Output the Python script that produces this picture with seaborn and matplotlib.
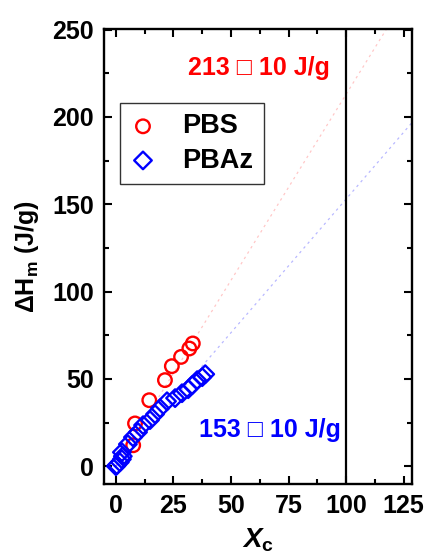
import numpy as np
import pandas as pd
import matplotlib
matplotlib.use("Agg")
import matplotlib.pyplot as plt
from matplotlib.ticker import MultipleLocator
import seaborn as sns

# Crystallinity X_c (%) and melting enthalpy (J/g)
pbs_xc = [7.5, 8.3, 14.5, 21.3, 24.3, 28.3, 31.9, 33.4]
pbs_dh = [12.0, 24.5, 37.8, 49.3, 57.3, 62.6, 67.4, 70.3]

pbaz_xc = [0.0, 0.4, 1.7, 2.6, 3.0, 2.6, 5.2, 7.4, 9.6, 11.8, 14.8,
           17.0, 19.2, 22.2, 25.7, 28.7, 31.4, 33.1, 35.3, 37.5, 38.8]
pbaz_dh = [0.0, 0.6, 2.3, 4.0, 5.7, 8.0, 12.6, 16.6, 19.5, 23.5, 26.4,
           29.8, 33.2, 37.2, 39.0, 41.8, 44.1, 46.4, 49.3, 51.0, 52.7]

# Enthalpy of a fully crystalline sample (J/g)
dh0_pbs, dh0_pbaz = 213, 153
dh0_err = 10

sns.set_theme(style="ticks")
plt.rcParams["font.family"] = ["Liberation Sans", "DejaVu Sans"]
plt.rcParams["font.weight"] = "bold"
plt.rcParams["text.color"] = "black"
plt.rcParams["axes.labelcolor"] = "black"
plt.rcParams["mathtext.fontset"] = "custom"
plt.rcParams["mathtext.rm"] = "Liberation Sans:bold"
plt.rcParams["mathtext.it"] = "Liberation Sans:italic:bold"
plt.rcParams["mathtext.bf"] = "Liberation Sans:bold"

pbs = pd.DataFrame({"xc": pbs_xc, "dh": pbs_dh})
pbaz = pd.DataFrame({"xc": pbaz_xc, "dh": pbaz_dh})

fig = plt.figure(figsize=(4.26, 5.54), dpi=100)
ax = fig.add_axes([0.244, 0.126, 0.723, 0.822])

# reference lines dH = dH0 * X_c / 100
xs = np.array([0, 135])
ax.plot(xs, dh0_pbs * xs / 100, color="red", lw=0.9, ls=(0, (2, 3)), alpha=0.22, zorder=1)
ax.plot(xs, dh0_pbaz * xs / 100, color="blue", lw=0.9, ls=(0, (2, 3)), alpha=0.28, zorder=1)
ax.axvline(100, color="black", lw=1.6, zorder=1)

sns.scatterplot(data=pbs, x="xc", y="dh", marker="o", s=95, facecolors="none",
                edgecolor="red", linewidth=1.7, label="PBS", ax=ax, zorder=3)
sns.scatterplot(data=pbaz, x="xc", y="dh", marker="D", s=80, facecolors="none",
                edgecolor="blue", linewidth=1.7, label="PBAz", ax=ax, zorder=3)

ax.set_xlim(-5.2, 128.6)
ax.set_ylim(-10.3, 250.5)
ax.xaxis.set_major_locator(MultipleLocator(25))
ax.xaxis.set_minor_locator(MultipleLocator(12.5))
ax.yaxis.set_major_locator(MultipleLocator(50))
ax.yaxis.set_minor_locator(MultipleLocator(25))
ax.tick_params(which="both", direction="in", top=True, right=True, width=1.5,
               labelsize=18, pad=7, colors="black")
ax.tick_params(which="major", length=6)
ax.tick_params(which="minor", length=3.5)
for lab in ax.get_xticklabels() + ax.get_yticklabels():
    lab.set_fontweight("bold")
for sp in ax.spines.values():
    sp.set_linewidth(1.7)
    sp.set_color("black")

ax.set_xlabel(r"$X_{\mathrm{c}}$", fontsize=20, labelpad=6)
ax.set_ylabel("\u0394H$_{\\mathrm{m}}$ (J/g)", fontsize=18, fontweight="bold", labelpad=8)

ax.text(0.503, 0.915, f"{dh0_pbs} \u25a1 {dh0_err} J/g", transform=ax.transAxes,
        color="red", fontsize=18, fontweight="bold", ha="center", va="center")
ax.text(0.54, 0.118, f"{dh0_pbaz} \u25a1 {dh0_err} J/g", transform=ax.transAxes,
        color="blue", fontsize=18, fontweight="bold", ha="center", va="center")

leg = ax.legend(title=None, loc="upper left", bbox_to_anchor=(0.052, 0.838),
                borderaxespad=0, fontsize=19.5, frameon=True, fancybox=False,
                edgecolor="black", handletextpad=1.0, borderpad=0.4,
                labelspacing=0.3, handlelength=0.9)
leg.get_frame().set_linewidth(1.0)
for t in leg.get_texts():
    t.set_fontweight("bold")
    t.set_color("black")
for h, col in zip(leg.legend_handles, ["red", "blue"]):
    h.set_facecolor("none")
    h.set_edgecolor(col)

fig.savefig("out.png", dpi=100)
